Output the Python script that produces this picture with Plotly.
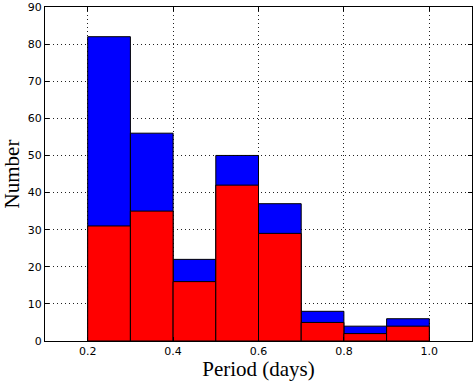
import plotly.graph_objects as go

bin_edges = [0.2, 0.3, 0.4, 0.5, 0.6, 0.7, 0.8, 0.9, 1.0]
total_counts = [82, 56, 22, 50, 37, 8, 4, 6]
subset_counts = [31, 35, 16, 42, 29, 5, 2, 4]
x_ticks = [0.2, 0.4, 0.6, 0.8, 1.0]
x_tick_labels = ["0.2", "0.4", "0.6", "0.8", "1.0"]
y_ticks = list(range(0, 91, 10))

centers = [(a + b) / 2 for a, b in zip(bin_edges[:-1], bin_edges[1:])]
widths = [b - a for a, b in zip(bin_edges[:-1], bin_edges[1:])]

fig = go.Figure()
fig.add_trace(go.Bar(x=centers, y=total_counts, width=widths,
                     marker=dict(color="#0000ff", line=dict(color="black", width=1))))
fig.add_trace(go.Bar(x=centers, y=subset_counts, width=widths,
                     marker=dict(color="#ff0000", line=dict(color="black", width=1))))

axis_common = dict(showline=True, mirror="ticks", linecolor="black", linewidth=1,
                   ticks="inside", ticklen=4, tickcolor="black",
                   showgrid=True, gridcolor="#222222", griddash="1px,3px", gridwidth=1,
                   zeroline=False,
                   tickfont=dict(family="DejaVu Sans", size=11, color="black"))

fig.update_layout(
    width=473, height=381, barmode="overlay", showlegend=False,
    margin=dict(l=45, r=1, t=7, b=40),
    plot_bgcolor="white", paper_bgcolor="white",
    xaxis=dict(range=[0.1, 1.1], tickvals=x_ticks, ticktext=x_tick_labels,
               title=dict(text="Period (days)", standoff=3,
                          font=dict(family="Liberation Serif", size=21, color="black")),
               **axis_common),
    yaxis=dict(range=[0, 90], tickvals=y_ticks,
               title=dict(text="Number", standoff=5,
                          font=dict(family="Liberation Serif", size=21, color="black")),
               **axis_common),
)
fig.write_html("out.html")
